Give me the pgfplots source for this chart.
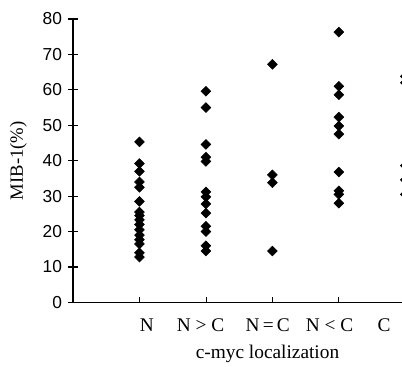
\documentclass[border=0pt]{standalone}
\usepackage{fontspec}
\setmainfont{Liberation Serif}
\newfontfamily\arialf{Liberation Sans}
\usepackage{pgfplots}
\pgfplotsset{compat=1.18}
\pgfplotsset{dia/.style={only marks, mark=square*, mark size=2.6pt, mark options={rotate=45, fill=black, draw=black}, draw=black, fill=black}}
\begin{document}
\begin{tikzpicture}[trim axis right]
\begin{axis}[
  scale only axis, width=246.75pt, height=212.55pt,
  xmin=0, xmax=4.95, ymin=0, ymax=80,
  axis x line=bottom, axis y line=left,
  axis line style={-, line width=0.8pt},
  ytick={0,10,...,80},
  yticklabel style={font=\arialf\fontsize{13}{15}\selectfont, xshift=-1pt},
  /pgf/number format/assume math mode=true,
  ytick style={draw=black, line width=0.8pt},
  ytick align=center, major tick length=7.5pt,
  xtick={1.11,1.92,2.93,3.86,4.68},
  xticklabels={N, N > C, N\,=\,C, N < C, C},
  xtick style={draw=none},
  xticklabel style={font=\fontsize{14.5}{16}\selectfont, yshift=-5pt},
  extra x ticks={1,2,3,4}, extra x tick labels={},
  extra x tick style={xtick style={draw=black, line width=0.6pt}, major tick length=4pt, tick align=inside},
  xlabel={c-myc localization},
  xlabel style={font=\fontsize{14.5}{16}\selectfont, yshift=1pt, xshift=22.5pt},
  ylabel={MIB-1(\%)},
  ylabel style={font=\fontsize{14}{16}\selectfont, yshift=5pt},
  clip=false,
]
\addplot[dia] coordinates {(1,45.3) (1,39.2) (1,37.0) (1,34.0) (1,32.5) (1,28.5) (1,25.5) (1,24.5) (1,23.3) (1,22.0) (1,20.5) (1,19.0) (1,17.7) (1,16.5) (1,14.0) (1,12.8)};
\addplot[dia] coordinates {(2,59.6) (2,55.0) (2,44.6) (2,41.0) (2,39.8) (2,31.2) (2,29.8) (2,27.8) (2,25.2) (2,21.5) (2,20.0) (2,16.0) (2,14.5)};
\addplot[dia] coordinates {(3,67.2) (3,36.0) (3,33.8) (3,14.5)};
\addplot[dia] coordinates {(4,76.3) (4,61.0) (4,58.6) (4,52.3) (4,49.8) (4,47.5) (4,36.8) (4,31.5) (4,30.5) (4,28.0)};
\addplot[dia] coordinates {(5,63.8) (5,62.0) (5,38.6) (5,34.6) (5,30.5)};
\end{axis}
\path (current axis.south west) ++(-54.75pt,0pt);
\path (current axis.north west) ++(0pt,14.25pt);
\path (current axis.south west) ++(0pt,-46.7pt);
\end{tikzpicture}
\end{document}
